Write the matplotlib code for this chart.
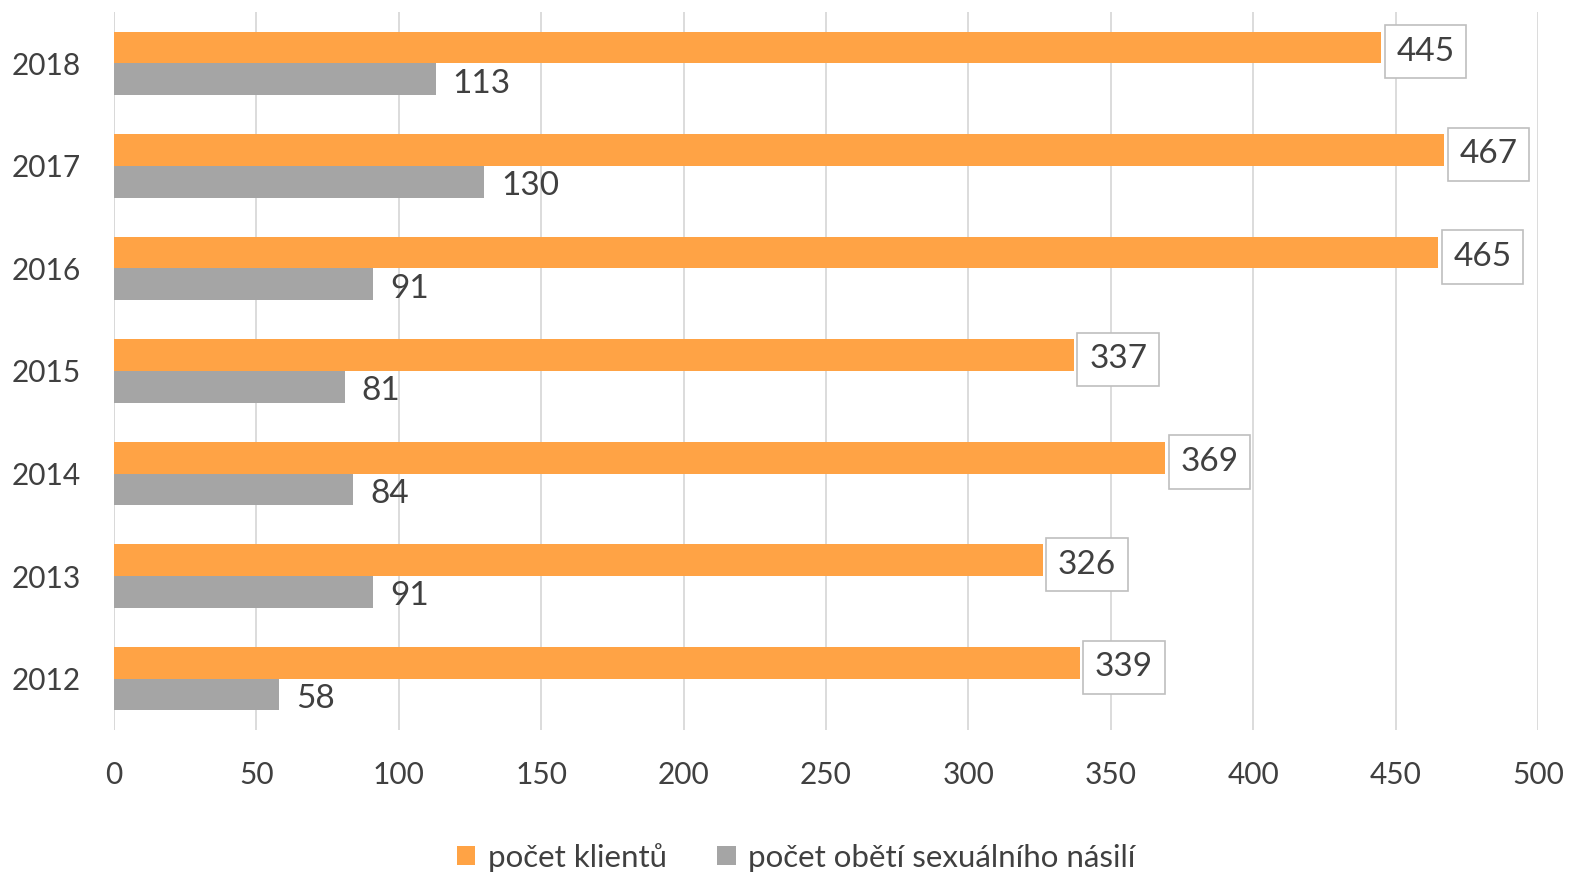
import matplotlib
matplotlib.use("Agg")
import matplotlib.pyplot as plt
import numpy as np

years = ["2012", "2013", "2014", "2015", "2016", "2017", "2018"]
klienti = [339, 326, 369, 337, 465, 467, 445]
obeti = [58, 91, 84, 81, 91, 130, 113]
xticks = [0, 50, 100, 150, 200, 250, 300, 350, 400, 450, 500]

ORANGE = "#FFA345"; GRAY = "#A5A5A5"; TXT = "#404040"; GRID = "#D9D9D9"
plt.rcParams["font.family"] = ["Lato", "DejaVu Sans"]

fig = plt.figure(figsize=(15.95, 8.9), dpi=100)
ax = fig.add_axes([0.0715, 0.1798, 0.8928, 0.8067])
y = np.arange(len(years))
h = 0.31
ax.barh(y + h / 2, klienti, height=h, color=ORANGE, label="počet klientů", zorder=3)
ax.barh(y - h / 2, obeti, height=h, color=GRAY, label="počet obětí sexuálního násilí", zorder=3)

for yi, v in zip(y, klienti):
    ax.annotate(str(v), (v, yi + h / 2), xytext=(11, -1), textcoords="offset points",
                va="center_baseline", ha="left", fontsize=24, color=TXT,
                bbox=dict(boxstyle="square,pad=0.35", fc="white", ec="#BFBFBF", lw=1.2))
for yi, v in zip(y, obeti):
    ax.annotate(str(v), (v, yi - h / 2), xytext=(12, -1), textcoords="offset points",
                va="center_baseline", ha="left", fontsize=24, color=TXT)

ax.set_xlim(0, 500)
ax.set_ylim(-0.5, len(years) - 0.5)
ax.set_xticks(xticks)
ax.set_yticks(y)
ax.set_yticklabels(years)
ax.tick_params(axis="both", length=0, labelsize=21.5, colors=TXT)
ax.tick_params(axis="x", pad=22)
ax.tick_params(axis="y", pad=24)
ax.grid(axis="x", color=GRID, lw=1.3, zorder=0)
for s in ax.spines.values():
    s.set_visible(False)
ax.axvline(0, color=GRID, lw=1.3, zorder=1)

ax.legend(loc="center", bbox_to_anchor=(0.479, -0.177), ncol=2, frameon=False,
          fontsize=22.5, labelcolor=TXT, handlelength=0.6, handleheight=0.6,
          handletextpad=0.4, columnspacing=1.6)

fig.savefig("out.png", dpi=100)
